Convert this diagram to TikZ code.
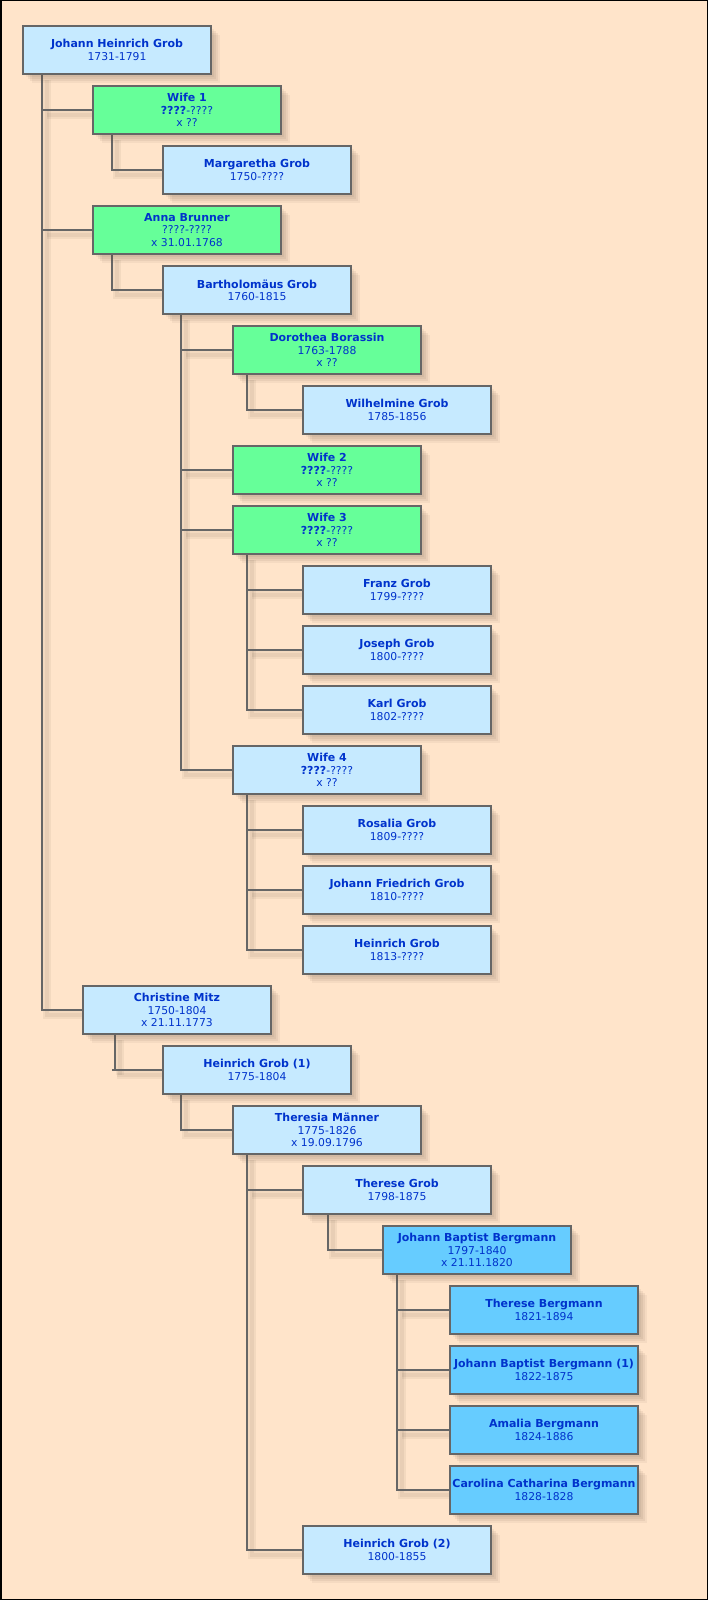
\documentclass[tikz,border=0pt]{standalone}
\usepackage{fontspec}
\setmainfont{DejaVu Sans}
\usetikzlibrary{shadows}
\definecolor{bgc}{HTML}{FFE4CA}
\definecolor{lbc}{HTML}{C6EAFF}
\definecolor{grc}{HTML}{66FF99}
\definecolor{mbc}{HTML}{66CCFF}
\definecolor{lineg}{HTML}{666666}
\definecolor{txtc}{HTML}{0033CC}
\definecolor{shc}{HTML}{5A4A3A}
\pgfdeclarelayer{back}
\pgfdeclarelayer{lines}
\pgfsetlayers{back,lines,main}
\tikzset{
  pbox/.style={draw=lineg, line width=2pt, minimum width=188pt, minimum height=48pt,
    inner sep=0pt, align=center, text=txtc, font=\fontsize{10.8}{12.3}\selectfont,
    general shadow={fill=shc, opacity=0.07, shadow xshift=3pt, shadow yshift=-3pt},
    general shadow={fill=shc, opacity=0.08, shadow xshift=5pt, shadow yshift=-5pt},
    general shadow={fill=shc, opacity=0.08, shadow xshift=7pt, shadow yshift=-7pt},
    general shadow={fill=shc, opacity=0.06, shadow xshift=9pt, shadow yshift=-9pt}},
  lb/.style={pbox, fill=lbc},
  gr/.style={pbox, fill=grc},
  mb/.style={pbox, fill=mbc},
  conn/.style={draw=lineg, line width=2pt,
    preaction={draw=shc, opacity=0.07, line width=8pt, transform canvas={shift={(5pt,-5pt)}}},
    preaction={draw=shc, opacity=0.07, line width=4pt, transform canvas={shift={(5pt,-5pt)}}}},
}
\newcommand{\nm}[1]{{\fontsize{11}{12.3}\selectfont\bfseries #1}}
\begin{document}
\begin{tikzpicture}[x=1pt, y=-1pt]
\useasboundingbox (0,0) rectangle (708,1600);
\begin{pgfonlayer}{back}
\fill[bgc] (0,0) rectangle (708,1600);
\draw[black, line width=1.5pt] (0.75,0.75) rectangle (707.25,1599.25);
\end{pgfonlayer}

\coordinate (v0) at (42,75);
\coordinate (v1) at (112,135);
\coordinate (v3) at (112,255);
\coordinate (v4) at (181,315);
\coordinate (v5) at (247,375);
\coordinate (v8) at (247,555);
\coordinate (v12) at (247,795);
\coordinate (v16) at (115,1035);
\coordinate (v17) at (181,1095);
\coordinate (v18) at (247,1155);
\coordinate (v19) at (328,1215);
\coordinate (v20) at (397,1275);

% boxes: centre x = left+95, centre y = 50+60*row
\path
  node[lb] (n0) at (117,50) {\nm{Johann Heinrich Grob}\\1731-1791}
  node[gr] (n1) at (187,110) {\nm{Wife 1}\\\nm{????}-????\\x ??}
  node[lb] (n2) at (257,170) {\nm{Margaretha Grob}\\1750-????}
  node[gr] (n3) at (187,230) {\nm{Anna Brunner}\\????-????\\x 31.01.1768}
  node[lb] (n4) at (257,290) {\nm{Bartholomäus Grob}\\1760-1815}
  node[gr] (n5) at (327,350) {\nm{Dorothea Borassin}\\1763-1788\\x ??}
  node[lb] (n6) at (397,410) {\nm{Wilhelmine Grob}\\1785-1856}
  node[gr] (n7) at (327,470) {\nm{Wife 2}\\\nm{????}-????\\x ??}
  node[gr] (n8) at (327,530) {\nm{Wife 3}\\\nm{????}-????\\x ??}
  node[lb] (n9) at (397,590) {\nm{Franz Grob}\\1799-????}
  node[lb] (n10) at (397,650) {\nm{Joseph Grob}\\1800-????}
  node[lb] (n11) at (397,710) {\nm{Karl Grob}\\1802-????}
  node[lb] (n12) at (327,770) {\nm{Wife 4}\\\nm{????}-????\\x ??}
  node[lb] (n13) at (397,830) {\nm{Rosalia Grob}\\1809-????}
  node[lb] (n14) at (397,890) {\nm{Johann Friedrich Grob}\\1810-????}
  node[lb] (n15) at (397,950) {\nm{Heinrich Grob}\\1813-????}
  node[lb] (n16) at (177,1010) {\nm{Christine Mitz}\\1750-1804\\x 21.11.1773}
  node[lb] (n17) at (257,1070) {\nm{Heinrich Grob (1)}\\1775-1804}
  node[lb] (n18) at (327,1130) {\nm{Theresia Männer}\\1775-1826\\x 19.09.1796}
  node[lb] (n19) at (397,1190) {\nm{Therese Grob}\\1798-1875}
  node[mb] (n20) at (477,1250) {\nm{Johann Baptist Bergmann}\\1797-1840\\x 21.11.1820}
  node[mb] (n21) at (544,1310) {\nm{Therese Bergmann}\\1821-1894}
  node[mb] (n22) at (544,1370) {\nm{Johann Baptist Bergmann (1)}\\1822-1875}
  node[mb] (n23) at (544,1430) {\nm{Amalia Bergmann}\\1824-1886}
  node[mb] (n24) at (544,1490) {\nm{Carolina Catharina Bergmann}\\1828-1828}
  node[lb] (n25) at (397,1550) {\nm{Heinrich Grob (2)}\\1800-1855};

% connectors (on a layer beneath the boxes)
\begin{pgfonlayer}{lines}
\draw[conn] (v0) -- (v0 |- n16.west) -- (n16.west);
\draw[conn] (n1.west) -- (n1.west -| v0);
\draw[conn] (n3.west) -- (n3.west -| v0);
\draw[conn] (v1) |- (n2.west);
\draw[conn] (v3) |- (n4.west);
\draw[conn] (v4) -- (v4 |- n12.west) -- (n12.west);
\draw[conn] (n5.west) -- (n5.west -| v4);
\draw[conn] (n7.west) -- (n7.west -| v4);
\draw[conn] (n8.west) -- (n8.west -| v4);
\draw[conn] (v5) |- (n6.west);
\draw[conn] (v8) -- (v8 |- n11.west) -- (n11.west);
\draw[conn] (n9.west) -- (n9.west -| v8);
\draw[conn] (n10.west) -- (n10.west -| v8);
\draw[conn] (v12) -- (v12 |- n15.west) -- (n15.west);
\draw[conn] (n13.west) -- (n13.west -| v12);
\draw[conn] (n14.west) -- (n14.west -| v12);
\draw[conn] (v16) -- (v16 |- n17.west);
\draw[conn] (n17.west) -- ++(-50,0);
\draw[conn] (v17) |- (n18.west);
\draw[conn] (v18) -- (v18 |- n25.west) -- (n25.west);
\draw[conn] (n19.west) -- (n19.west -| v18);
\draw[conn] (v19) |- (n20.west);
\draw[conn] (v20) -- (v20 |- n24.west) -- (n24.west);
\draw[conn] (n21.west) -- (n21.west -| v20);
\draw[conn] (n22.west) -- (n22.west -| v20);
\draw[conn] (n23.west) -- (n23.west -| v20);
\end{pgfonlayer}
\end{tikzpicture}
\end{document}
